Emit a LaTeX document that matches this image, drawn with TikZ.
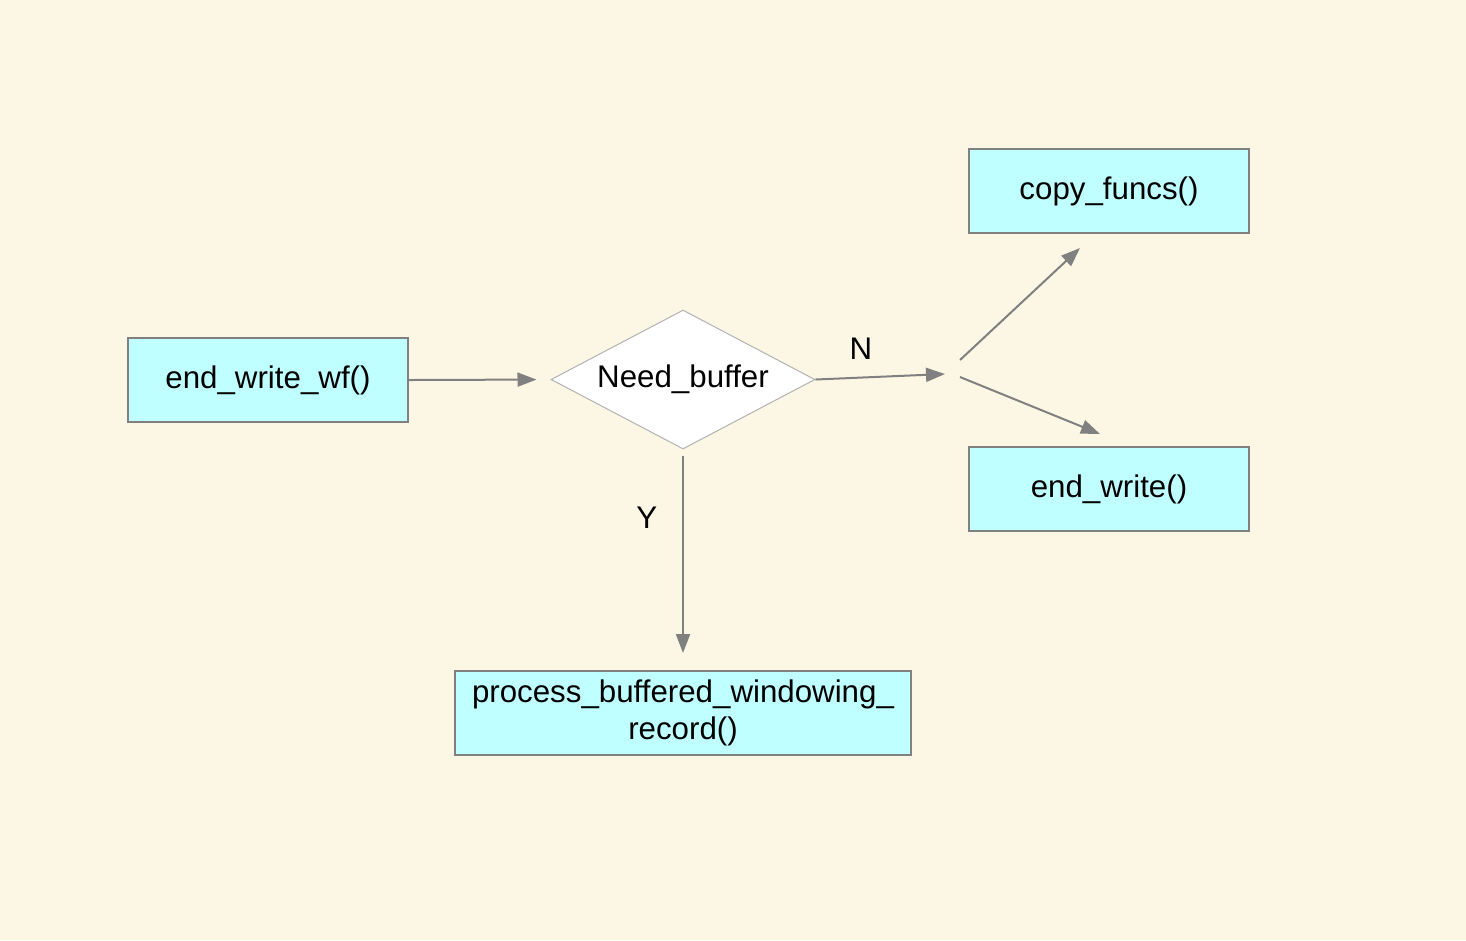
\documentclass[tikz,border=0pt]{standalone}
\usepackage{fontspec}
\setmainfont{Liberation Sans}
\usepackage{tikz}
\usetikzlibrary{shapes.geometric,arrows.meta}
\definecolor{bgcream}{RGB}{252,246,228}
\definecolor{boxcyan}{RGB}{192,255,255}
\definecolor{linegray}{RGB}{128,128,128}
\tikzset{fbox/.style={draw=linegray,line width=0.02cm,fill=boxcyan,minimum width=2.8cm,minimum height=0.84cm,inner sep=0pt,font=\fontsize{8.9}{10.6}\selectfont},
	dec/.style={diamond,draw=black!30,line width=0.01cm,fill=white,aspect=1.9,inner sep=0pt,minimum width=2.64cm,minimum height=1.39cm,font=\fontsize{8.9}{10.6}\selectfont},
	conn/.style={draw=linegray,line width=0.02cm,-{Triangle[length=0.19cm,width=0.14cm]}},
	lbl/.style={font=\fontsize{8.9}{10.6}\selectfont}}

\begin{document}
\begin{tikzpicture}
	\fill[bgcream] (0,0) rectangle (14.66,-9.40);
	\useasboundingbox (0,0) rectangle (14.66,-9.40);
	\node[fbox] (wf) at (2.68,-3.80) {end\_write\_wf()};
	\node[dec] (need) at (6.83,-3.795) {Need\_buffer};
	\node[fbox] (copy) at (11.09,-1.91) {copy\_funcs()};
	\node[fbox] (endw) at (11.09,-4.89) {end\_write()};
	\node[fbox,minimum width=4.56cm,align=center] (proc) at (6.83,-7.13) {process\_buffered\_windowing\_\\record()};
	\coordinate (split) at (9.45,-3.74);
	\coordinate (up) at (9.60,-3.60);
	\coordinate (down) at (9.60,-3.77);
	\coordinate (upend) at (10.80,-2.48);
	\coordinate (downend) at (11.00,-4.34);
	\draw[conn,shorten >=0.14cm] (wf.east) -- (need.west);
	\draw[conn] (need.east) -- node[lbl,above=0.05cm,pos=0.35] {N} (split);
	\draw[conn,shorten <=0.06cm,shorten >=0.17cm] (need.south) -- node[lbl,left=0.13cm,pos=0.31] {Y} (proc.north);
	\draw[conn] (up) -- (upend);
	\draw[conn] (down) -- (downend);
\end{tikzpicture}
\end{document}
